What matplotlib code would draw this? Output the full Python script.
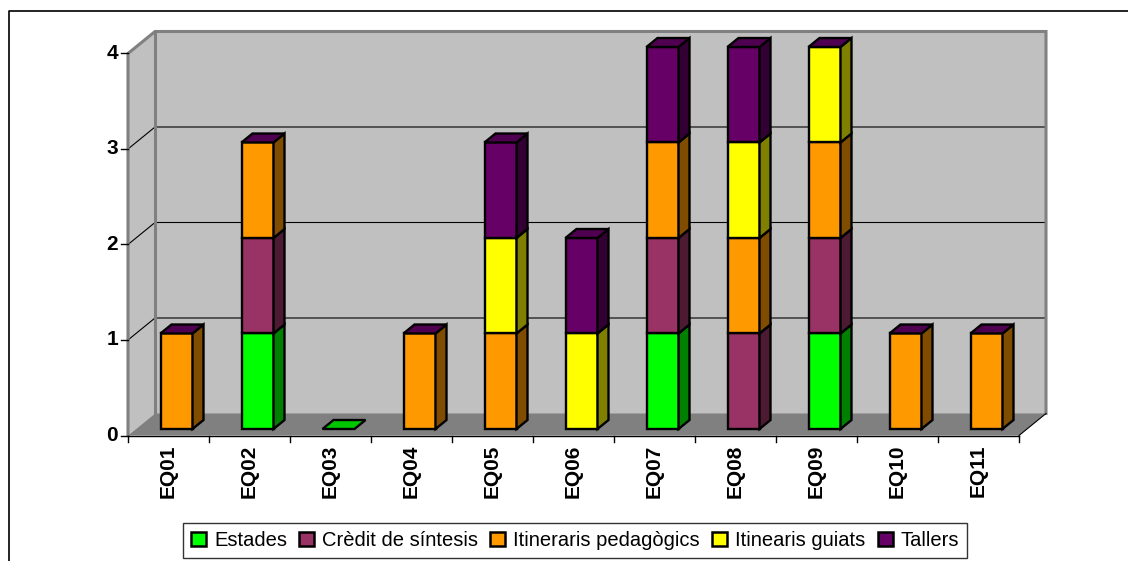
import numpy as np
import matplotlib
matplotlib.use("Agg")
import matplotlib.pyplot as plt
from matplotlib.patches import Polygon, Patch
from matplotlib.lines import Line2D

plt.rcParams['font.family'] = ['Liberation Sans', 'DejaVu Sans']

# data
categories = ['EQ01', 'EQ02', 'EQ03', 'EQ04', 'EQ05', 'EQ06',
              'EQ07', 'EQ08', 'EQ09', 'EQ10', 'EQ11']
series_names = ['Estades', 'Crèdit de síntesis', 'Itineraris pedagògics',
                'Itinearis guiats', 'Tallers']
nan = np.nan
estades = [0, 1, 0, 0, 0, 0, 1, 0, 1, 0, 0]
credit = [0, 1, nan, 0, 0, 0, 1, 1, 1, 0, 0]
itin_ped = [1, 1, nan, 1, 1, 0, 1, 1, 1, 1, 1]
itin_guiats = [0, 0, nan, 0, 1, 1, 0, 1, 1, 0, 0]
tallers = [0, 0, nan, 0, 1, 1, 1, 1, 0, 0, 0]
y_ticks = [0, 1, 2, 3, 4]

series = [estades, credit, itin_ped, itin_guiats, tallers]
colors = ['#00FF00', '#993366', '#FF9900', '#FFFF00', '#660066']


def shade(c, f):
    r, g, b = matplotlib.colors.to_rgb(c)
    return (r * f, g * f, b * f)


# oblique projection, depth d in 0..1 of the floor
DX = 27 / 81.0
DY = 22 / 95.5


def P(x, v, d):
    return (x + DX * d, v + DY * d)


fig = plt.figure(figsize=(11.28, 5.61), dpi=100)
ax = fig.add_axes([0, 0, 1, 1])
ax.set_xlim(-128 / 81.0, 1000 / 81.0)
ax.set_ylim(-(561 - 435.5) / 95.5, 435.5 / 95.5)
ax.axis('off')

ncat = len(categories)
ymax = y_ticks[-1]
wall_c = '#C0C0C0'
edge_gray = '#808080'

# outer border
fig.add_artist(Line2D([9 / 1128, 9 / 1128, 1.0], [0, 1 - 11 / 561, 1 - 11 / 561],
                      transform=fig.transFigure, color='black', lw=1.2))

# back wall, side wall, floor
ax.add_patch(Polygon([P(0, 0, 1), P(ncat, 0, 1), P(ncat, ymax, 1), P(0, ymax, 1)],
                     closed=True, fc=wall_c, ec='none'))
ax.add_patch(Polygon([P(0, 0, 0), P(0, 0, 1), P(0, ymax, 1), P(0, ymax, 0)],
                     closed=True, fc=wall_c, ec='none'))
ax.add_patch(Polygon([P(0, 0, 0), P(ncat, 0, 0), P(ncat, 0, 1), P(0, 0, 1)],
                     closed=True, fc='#808080', ec='none'))

# gridlines
for v in y_ticks[1:-1]:
    a, b, c = P(0, v, 0), P(0, v, 1), P(ncat, v, 1)
    ax.plot([a[0], b[0], c[0]], [a[1], b[1], c[1]], color='black', lw=0.8)

# wall edges
for pts in [[P(0, 0, 0), P(0, ymax, 0), P(0, ymax, 1), P(ncat, ymax, 1), P(ncat, 0, 1)],
            [P(0, 0, 1), P(0, ymax, 1)]]:
    xs, ys = zip(*pts)
    ax.plot(xs, ys, color=edge_gray, lw=2.2, solid_joinstyle='miter')
a, b = P(ncat, 0, 0), P(ncat, 0, 1)
ax.plot([a[0], b[0]], [a[1], b[1]], color='black', lw=0.8)

# axes lines and ticks
ax.plot([0, ncat], [0, 0], color='black', lw=1.0)
for k in range(ncat + 1):
    ax.plot([k, k], [0, -6 / 95.5], color='black', lw=1.0)
for v in y_ticks:
    ax.plot([-7 / 81.0, 0], [v, v], color='black', lw=1.0)
    ax.text(-10 / 81.0, v, str(v), ha='right', va='center',
            fontsize=15, fontweight='bold')
for k, cat in enumerate(categories):
    ax.text(k + 0.5, -9 / 95.5, cat, rotation=90, ha='center', va='top',
            fontsize=15, fontweight='bold')

# bars
bw = 32 / 81.0
d0, d1 = 8 / 27.0, 19 / 27.0
lw = 1.7
for k in range(ncat):
    x0 = k + 0.5 - bw / 2
    x1 = x0 + bw
    base = 0.0
    top_color = None
    for s, col in zip(series, colors):
        val = s[k]
        if np.isnan(val):
            continue
        top_color = col
        if val <= 0:
            continue
        top = base + val
        ax.add_patch(Polygon([P(x0, base, d0), P(x1, base, d0), P(x1, top, d0), P(x0, top, d0)],
                             closed=True, fc=col, ec='black', lw=lw, joinstyle='miter', zorder=3))
        ax.add_patch(Polygon([P(x1, base, d0), P(x1, base, d1), P(x1, top, d1), P(x1, top, d0)],
                             closed=True, fc=shade(col, 0.5), ec='black', lw=lw, joinstyle='miter', zorder=3))
        base = top
    ax.add_patch(Polygon([P(x0, base, d0), P(x1, base, d0), P(x1, base, d1), P(x0, base, d1)],
                         closed=True, fc=shade(top_color, 0.78), ec='black', lw=lw,
                         joinstyle='miter', zorder=4))

# legend
handles = [Patch(fc=c, ec='black', lw=1.8) for c in colors]
leg = fig.legend(handles, series_names, loc='lower center', ncol=5,
                 bbox_to_anchor=(0.5098, 0.005), fontsize=14.5, frameon=True,
                 fancybox=False, handlelength=0.75, handleheight=0.75,
                 handletextpad=0.4, columnspacing=0.6, borderpad=0.4,
                 borderaxespad=0)
leg.get_frame().set_edgecolor('black')
leg.get_frame().set_linewidth(1.0)

fig.savefig('out.png', dpi=100)
